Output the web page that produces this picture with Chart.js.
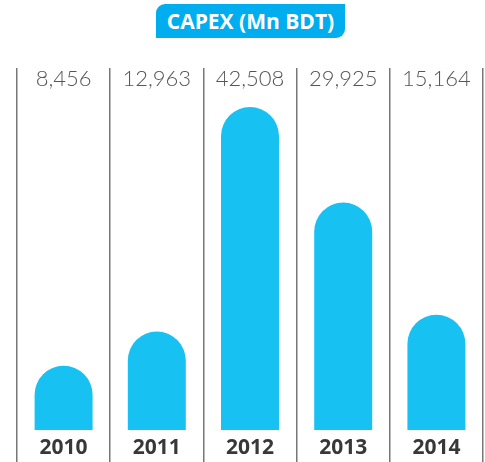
<!DOCTYPE html>
<html>
<head>
<meta charset="utf-8">
<script src="https://cdn.jsdelivr.net/npm/chart.js@4"></script>
<style>
  html, body { margin: 0; padding: 0; background: #fff; }
  #wrap { position: relative; width: 485px; height: 462px; }
  #title {
    position: absolute; left: 156px; top: 4px; width: 189px; height: 34px;
    background: #00aeef; color: #fff; border-radius: 9px 0 9px 0;
    font: bold 21px "Open Sans", sans-serif; line-height: 34px; text-align: center;
  }
</style>
</head>
<body>
<div id="wrap">
  <canvas id="myChart" width="485" height="462"></canvas>
  <div id="title">CAPEX (Mn BDT)</div>
</div>
<script>
const years = ["2010", "2011", "2012", "2013", "2014"];
const capex = [8456, 12963, 42508, 29925, 15164];
const valueLabels = ["8,456", "12,963", "42,508", "29,925", "15,164"];

// draws the value on top of each column and the year under each bar
const columnText = {
  id: "columnText",
  afterDatasetsDraw(chart) {
    const { ctx, scales, chartArea } = chart;
    ctx.save();
    ctx.textAlign = "center";
    ctx.textBaseline = "middle";
    years.forEach((year, i) => {
      const x = scales.x.getPixelForValue(i);
      ctx.fillStyle = "#555";
      ctx.font = "300 22px Lato, 'Open Sans', sans-serif";
      ctx.fillText(valueLabels[i], x, chartArea.top + 11);
      ctx.fillStyle = "#383838";
      ctx.font = "bold 21px 'Open Sans', sans-serif";
      ctx.fillText(year, x, scales.y.getPixelForValue(0) + 18);
    });
    ctx.restore();
  },
};

new Chart(document.getElementById("myChart"), {
  type: "bar",
  data: {
    labels: years,
    datasets: [
      {
        data: capex,
        backgroundColor: "#17c1f1",
        borderRadius: { topLeft: 29, topRight: 29 },
        borderSkipped: "bottom",
        categoryPercentage: 1,
        barPercentage: 0.622,
      },
    ],
  },
  options: {
    responsive: false,
    animation: false,
    layout: { padding: { left: 17, right: 2, top: 68, bottom: 0 } },
    plugins: { legend: { display: false }, tooltip: { enabled: false } },
    scales: {
      x: {
        grid: { offset: true, drawTicks: false, color: "#777", lineWidth: 1.5 },
        border: { display: false },
        ticks: { display: false },
      },
      y: { display: false, min: -4211, max: 47640 },
    },
  },
  plugins: [columnText],
});
</script>
</body>
</html>
